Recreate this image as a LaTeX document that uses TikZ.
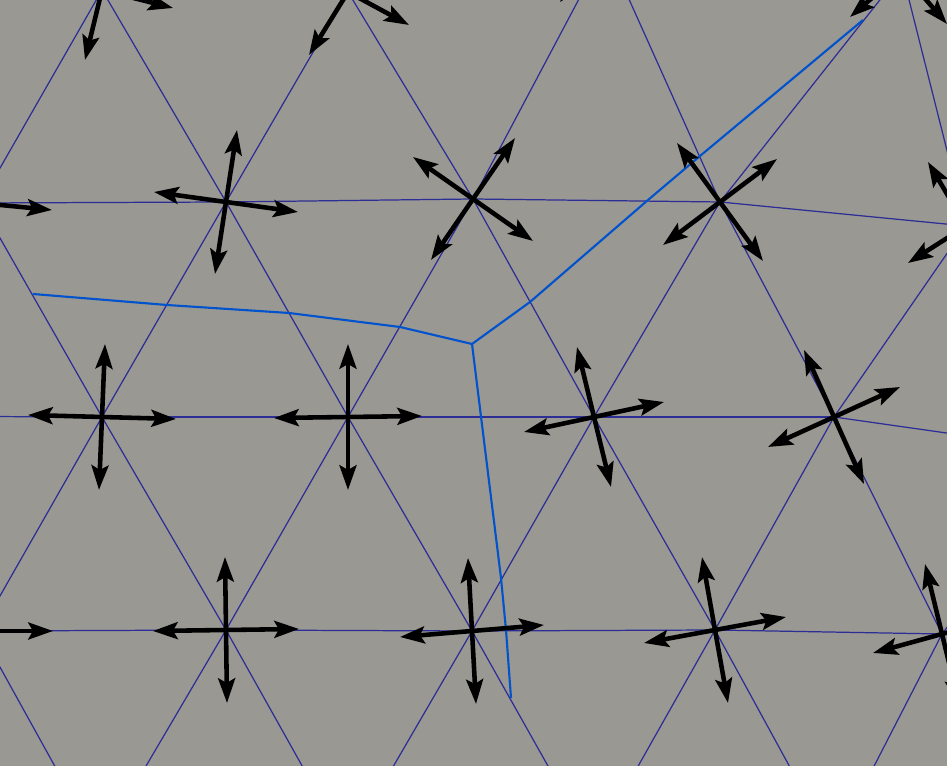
\documentclass[tikz,border=0pt]{standalone}
\usepackage{tikz}
\usetikzlibrary{arrows.meta, calc}
\definecolor{meshgray}{RGB}{153,152,147}
\definecolor{meshblue}{RGB}{45,45,150}
\definecolor{seamblue}{RGB}{0,82,205}
\tikzset{
  meshedge/.style={meshblue, line width=0.35pt},
  seam/.style={seamblue, line width=0.6pt, line join=round},
  dirarrow/.style={line width=1.3pt, {Stealth[length=7pt,width=4.8pt,inset=1.3pt]}-{Stealth[length=7pt,width=4.8pt,inset=1.3pt]}}
}

\begin{document}
\begin{tikzpicture}[yscale=-1]
        \useasboundingbox (0,0) rectangle (9.47,7.66);
        \clip (0,0) rectangle (9.47,7.66);
        \fill[meshgray] (0,0) rectangle (9.47,7.66);
        % noeuds du maillage
        \coordinate (T1) at (1.02,-0.10);
        \coordinate (T2) at (3.48,-0.08);
        \coordinate (T3) at (6.06,-0.52);
        \coordinate (T4) at (9.02,-0.28);
        \coordinate (E) at (-0.20,2.03);
        \coordinate (A) at (2.26,2.02);
        \coordinate (B) at (4.73,1.99);
        \coordinate (C) at (7.20,2.02);
        \coordinate (R1) at (9.66,2.26);
        \coordinate (W2) at (-1.44,4.16);
        \coordinate (F) at (1.02,4.17);
        \coordinate (G) at (3.48,4.17);
        \coordinate (H) at (5.94,4.17);
        \coordinate (I) at (8.34,4.17);
        \coordinate (R2) at (10.80,4.52);
        \coordinate (J) at (-0.20,6.31);
        \coordinate (K) at (2.26,6.30);
        \coordinate (L) at (4.72,6.31);
        \coordinate (M) at (7.15,6.30);
        \coordinate (N) at (9.42,6.34);
        \coordinate (R3) at (11.90,6.38);
        \coordinate (S1) at (0.99,8.46);
        \coordinate (S2) at (3.47,8.46);
        \coordinate (S3) at (5.93,8.46);
        \coordinate (S4) at (8.33,8.46);
        % aretes
        \foreach \a/\b in {T1/T2, T2/T3, T3/T4,
            E/T1, T1/A, A/T2, T2/B, B/T3, T3/C, C/T4, T4/R1,
            E/A, A/B, B/C, C/R1,
            E/F, F/A, A/G, G/B, B/H, H/C, C/I, I/R1,
            W2/F, F/G, G/H, H/I, I/R2,
            W2/J, J/F, F/K, K/G, G/L, L/H, H/M, M/I, I/N, N/R2,
            J/K, K/L, L/M, M/N, N/R3,
            J/S1, S1/K, K/S2, S2/L, L/S3, S3/M, M/S4, S4/N}
          \draw[meshedge] (\a) -- (\b);
        % interface
        \draw[seam] (0.33,2.94) -- (1.67,3.05) -- (2.89,3.13) -- (4.00,3.27)
          -- (4.72,3.44) coordinate (Y) -- (5.30,3.02) -- (6.48,2.00) -- (7.00,1.56) -- (8.63,0.20);
        \draw[seam] (Y) -- (5.01,5.78) -- (5.06,6.30) -- (5.11,6.98);
        % directions aux noeuds
        \foreach \v/\ax/\ay/\bx/\by in {A/0.11/-0.72/0.72/0.10, B/-0.60/-0.42/0.42/-0.61,
            C/-0.43/-0.59/0.57/-0.43, E/0.72/0.07/0.07/-0.72, R1/-0.38/-0.64/-0.58/0.37,
            T1/-0.17/0.70/0.71/0.18, T2/-0.39/0.63/0.61/0.33, T3/-0.46/0.54/0.54/0.46,
            T4/-0.52/0.45/0.45/0.52, F/0.03/-0.73/0.74/0.02, G/0.00/-0.73/0.74/-0.01,
            H/-0.17/-0.70/0.70/-0.15, I/-0.30/-0.67/0.66/-0.30, J/0.00/-0.73/0.73/0.00,
            K/-0.01/-0.73/0.73/-0.01, L/-0.04/-0.73/0.72/-0.06, M/-0.13/-0.73/0.71/-0.13,
            N/-0.17/-0.70/0.69/-0.19} {
          \draw[dirarrow] ($(\v)-(\ax,\ay)$) -- ($(\v)+(\ax,\ay)$);
          \draw[dirarrow] ($(\v)-(\bx,\by)$) -- ($(\v)+(\bx,\by)$);
        }
      \end{tikzpicture}
\end{document}
